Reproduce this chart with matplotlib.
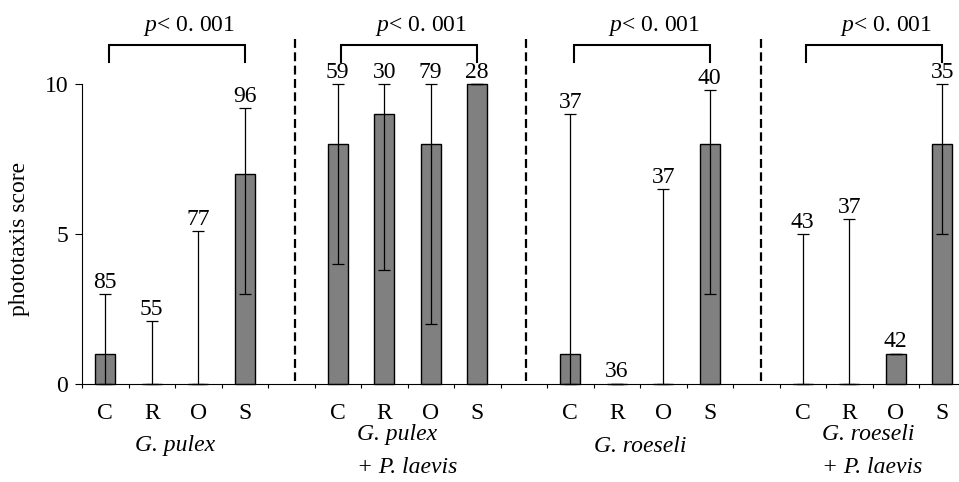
import matplotlib
matplotlib.use('Agg')
import matplotlib.pyplot as plt

plt.rcParams['font.family'] = 'Liberation Serif'
plt.rcParams['mathtext.fontset'] = 'custom'
plt.rcParams['mathtext.it'] = 'Liberation Serif:italic'
plt.rcParams['mathtext.rm'] = 'Liberation Serif'

treatments = ['C', 'R', 'O', 'S']
groups = ['G. pulex', 'G. pulex\n+ P. laevis', 'G. roeseli', 'G. roeseli\n+ P. laevis']

# median phototaxis score, lower / upper error limit, sample size
pulex = [1, 0, 0, 7]
pulex_low = [0, 0, 0, 3]
pulex_high = [3, 2.1, 5.1, 9.2]
pulex_n = [85, 55, 77, 96]

pulex_inf = [8, 9, 8, 10]
pulex_inf_low = [4, 3.8, 2, 10]
pulex_inf_high = [10, 10, 10, 10]
pulex_inf_n = [59, 30, 79, 28]

roeseli = [1, 0, 0, 8]
roeseli_low = [0, 0, 0, 3]
roeseli_high = [9, 0, 6.5, 9.8]
roeseli_n = [37, 36, 37, 40]

roeseli_inf = [0, 0, 1, 8]
roeseli_inf_low = [0, 0, 1, 5]
roeseli_inf_high = [5, 5.5, 1, 10]
roeseli_inf_n = [43, 37, 42, 35]

medians = [pulex, pulex_inf, roeseli, roeseli_inf]
lows = [pulex_low, pulex_inf_low, roeseli_low, roeseli_inf_low]
highs = [pulex_high, pulex_inf_high, roeseli_high, roeseli_inf_high]
ns = [pulex_n, pulex_inf_n, roeseli_n, roeseli_inf_n]

fs = 17

fig = plt.figure(figsize=(9.59, 4.82), dpi=100)
ax = fig.add_axes([82/959, 0, 877/959, 1])

px = 29.97  # pixels per score unit
ax.set_ylim(-98.3/px, 383.7/px)
ax.set_xlim(-0.5, -0.5 + 877/46.5)

centers = []
labels = []
for g in range(4):
    xs = [g*5 + j for j in range(4)]
    med = medians[g]
    lo = [m - l for m, l in zip(med, lows[g])]
    hi = [h - m for m, h in zip(med, highs[g])]
    ax.bar(xs, med, width=0.42, color='#808080', edgecolor='black', linewidth=1, zorder=2)
    ax.errorbar(xs, med, yerr=[lo, hi], fmt='none', ecolor='black', elinewidth=0.9,
                capsize=4.3, capthick=0.9, zorder=3)
    for x, h, n in zip(xs, highs[g], ns[g]):
        ax.annotate(str(n), (x, h), xytext=(0, 4.5), textcoords='offset points',
                    ha='center', va='baseline', fontsize=fs, clip_on=False)
    # bracket and p value
    bl, br = xs[0] + 0.08, xs[3]
    ax.plot([bl, bl, br, br], [10.74, 11.3, 11.3, 10.74], c='black', lw=1.5,
            clip_on=False, solid_joinstyle='miter')
    ax.text(xs[0] + 1.8, 11.92, r'$p$< 0. 001', ha='center', va='center', fontsize=fs)
    # group label
    if '\n' in groups[g]:
        ax.text(xs[0] + 1.5, (383.7 - 451)/px, groups[g], ha='center', va='center',
                multialignment='left', style='italic', fontsize=fs, linespacing=1.75)
    else:
        ax.text(xs[0] + 1.5, (383.7 - 446)/px, groups[g], ha='center', va='center',
                style='italic', fontsize=fs)
    centers += xs
    labels += treatments

for x in [4.08, 9.05, 14.1]:
    ax.plot([x, x], [11.5, 0.1], '--', c='black', lw=1.6, dashes=(4, 2))

ax.set_xticks([i + 0.5 for i in range(-1, 18)])
ax.set_xticklabels([])
ax.set_xticks(centers, labels, minor=True)
ax.tick_params(axis='x', which='major', length=3, direction='out')
ax.tick_params(axis='x', which='minor', length=0, pad=14, labelsize=fs)
ax.set_yticks([0, 5, 10])
ax.tick_params(axis='y', length=5, pad=5, labelsize=fs)

ax.spines['top'].set_visible(False)
ax.spines['right'].set_visible(False)
ax.spines['left'].set_bounds(0, 10)
ax.spines['bottom'].set_position(('data', 0))

fig.text(20/959, 1 - 239/482, 'phototaxis score', rotation=90, ha='center', va='center',
         fontsize=fs)

plt.savefig('out.png')
